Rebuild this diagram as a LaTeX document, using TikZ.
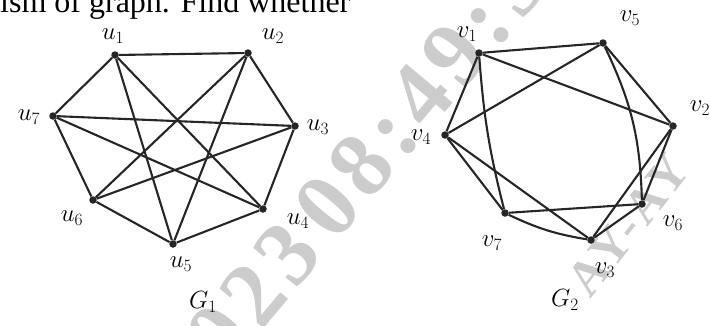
\documentclass[tikz,border=0pt]{standalone}
\usepackage{fontspec}
\setmainfont{Liberation Serif}
\newfontfamily\wmfont[LetterSpace=8]{Liberation Serif}

\begin{document}
\begin{tikzpicture}[x=1pt, y=-1pt,
	v/.style = {circle, fill=black!85, inner sep=0pt, minimum size=7.5pt},
	l/.style = {font=\fontsize{24}{24}\selectfont},
	e/.style = {black!85, line width=2.1pt},
	wm/.style = {gray!40, font=\wmfont\bfseries\fontsize{92}{92}\selectfont}
	]
	\useasboundingbox (0,0) rectangle (710,325);
	
	%Watermark
	\node[wm, rotate=50]	(wm1)	at	(366, 160)	{023\,08:49:5};
	\node[wm, rotate=52, font=\wmfont\bfseries\fontsize{50}{50}\selectfont]	(wm2)	at	(628, 225)	{AY-AY};
	
	%Heading
	\node[anchor=base west, inner sep=0pt, font=\fontsize{32}{32}\selectfont]	(head)	at	(0, 12)	{ism of graph. Find whether};
	
	%Nodes G1
	\node[v]	(u1)	at	(115, 55)	{};
	\node[v]	(u2)	at	(248, 53)	{};
	\node[v]	(u3)	at	(295, 126)	{};
	\node[v]	(u4)	at	(263, 209)	{};
	\node[v]	(u5)	at	(173, 244)	{};
	\node[v]	(u6)	at	(93, 200)	{};
	\node[v]	(u7)	at	(53, 116)	{};
	
	%Labels G1
	\node[l]	(lu1)	at	(113, 36)	{$u_1$};
	\node[l]	(lu2)	at	(273, 36)	{$u_2$};
	\node[l]	(lu3)	at	(318, 127)	{$u_3$};
	\node[l]	(lu4)	at	(298, 221)	{$u_4$};
	\node[l]	(lu5)	at	(181, 264)	{$u_5$};
	\node[l]	(lu6)	at	(72, 218)	{$u_6$};
	\node[l]	(lu7)	at	(29, 117)	{$u_7$};
	\node[l]	(g1)	at	(203, 302)	{$G_1$};
	
	%Nodes G2
	\node[v]	(v1)	at	(479, 53)	{};
	\node[v]	(v5)	at	(603, 43)	{};
	\node[v]	(v2)	at	(673, 126)	{};
	\node[v]	(v6)	at	(642, 204)	{};
	\node[v]	(v3)	at	(591, 240)	{};
	\node[v]	(v7)	at	(505, 213)	{};
	\node[v]	(v4)	at	(445, 135)	{};
	
	%Labels G2
	\node[l]	(lv1)	at	(467, 34)	{$v_1$};
	\node[l]	(lv5)	at	(630, 18)	{$v_5$};
	\node[l]	(lv2)	at	(700, 108)	{$v_2$};
	\node[l]	(lv4)	at	(421, 137)	{$v_4$};
	\node[l]	(lv6)	at	(673, 223)	{$v_6$};
	\node[l]	(lv7)	at	(492, 243)	{$v_7$};
	\node[l]	(lv3)	at	(605, 270)	{$v_3$};
	\node[l]	(g2)	at	(565, 300)	{$G_2$};
	
	%Lines G1
	\draw[e]	(u1) -- (u2);
	\draw[e]	(u1) -- (u7);
	\draw[e]	(u1) -- (u5);
	\draw[e]	(u1) -- (u4);
	\draw[e]	(u2) -- (u3);
	\draw[e]	(u2) -- (u6);
	\draw[e]	(u2) -- (u5);
	\draw[e]	(u7) -- (u3);
	\draw[e]	(u7) -- (u6);
	\draw[e]	(u7) -- (u4);
	\draw[e]	(u3) -- (u6);
	\draw[e]	(u3) -- (u4);
	\draw[e]	(u6) -- (u5);
	\draw[e]	(u5) -- (u4);
	
	%Lines G2
	\draw[e]	(v1) -- (v5);
	\draw[e]	(v1) -- (v2);
	\draw[e]	(v1) -- (v4);
	\draw[e]	(v1) to[bend right=5]	(v7);
	\draw[e]	(v5) -- (v4);
	\draw[e]	(v5) -- (v2);
	\draw[e]	(v5) to[bend left=12]	(v6);
	\draw[e]	(v4) -- (v7);
	\draw[e]	(v4) -- (v3);
	\draw[e]	(v7) -- (v6);
	\draw[e]	(v7) to[bend right=8]	(v3);
	\draw[e]	(v2) -- (v3);
	\draw[e]	(v2) -- (v6);
	\draw[e]	(v6) -- (v3);
\end{tikzpicture}
\end{document}
